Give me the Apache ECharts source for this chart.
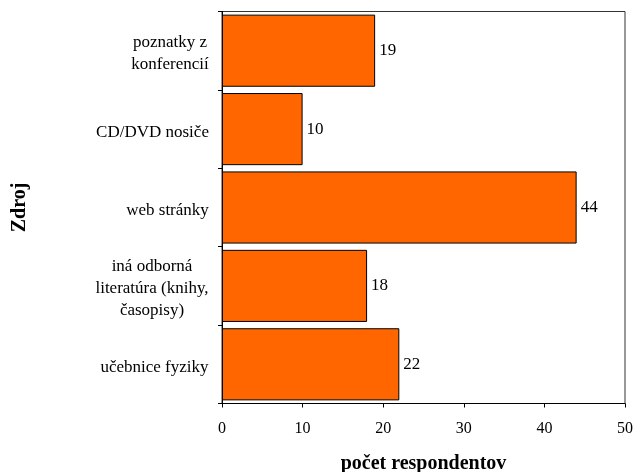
<!DOCTYPE html>
<html>
<head>
<meta charset="utf-8">
<script src="https://cdn.jsdelivr.net/npm/echarts@6/dist/echarts.min.js"></script>
<style>html,body{margin:0;padding:0;background:#fff}#c{width:633px;height:472px}</style>
</head>
<body>
<div id="c"></div>
<script>
// Sources of information, listed top to bottom
const categories = [
  'poznatky z\nkonferencií',
  'CD/DVD nosiče',
  'web stránky',
  'iná odborná\nliteratúra (knihy,\nčasopisy)',
  'učebnice fyziky'
];
const respondents = [19, 10, 44, 18, 22];
const xTicks = { min: 0, max: 50, interval: 10 };

const serif = '"Liberation Serif", "DejaVu Serif", serif';
const catFontSize = 17;

// Multi-line category labels are centred line by line inside a box as wide
// as their longest line, and the box is right-aligned against the axis.
const ctx = document.createElement('canvas').getContext('2d');
ctx.font = catFontSize + 'px ' + serif;
const rich = {};
categories.forEach((c, i) => {
  const w = Math.max(...c.split('\n').map(l => ctx.measureText(l).width));
  rich['c' + i] = { width: Math.ceil(w), align: 'center', fontFamily: serif, fontSize: catFontSize, color: '#000', lineHeight: 22 };
});

const chart = echarts.init(document.getElementById('c'));
chart.setOption({
  animation: false,
  grid: {
    left: 222, right: 8, top: 11.5, bottom: 68.5,
    outerBoundsMode: 'none',
    show: true, borderColor: '#333', borderWidth: 1
  },
  xAxis: {
    type: 'value', min: xTicks.min, max: xTicks.max, interval: xTicks.interval,
    name: 'počet respondentov', nameLocation: 'middle', nameGap: 50,
    nameTextStyle: { fontFamily: serif, fontSize: 20, fontWeight: 'bold', color: '#000' },
    axisLine: { show: true, lineStyle: { color: '#000' } },
    axisTick: { show: true, length: 4, lineStyle: { color: '#000' } },
    axisLabel: { fontFamily: serif, fontSize: 16, color: '#000', margin: 17 },
    splitLine: { show: false }
  },
  yAxis: {
    type: 'category', data: categories, inverse: true,
    name: 'Zdroj', nameLocation: 'middle', nameGap: 192, nameRotate: 90,
    nameTextStyle: { fontFamily: serif, fontSize: 20, fontWeight: 'bold', color: '#000' },
    axisLine: { show: true, lineStyle: { color: '#000' } },
    axisTick: { show: true, length: 4, lineStyle: { color: '#000' } },
    axisLabel: {
      margin: 13, align: 'right', rich: rich, padding: [6, 0, 0, 0],
      formatter: (v, i) => v.split('\n').map(l => '{c' + i + '|' + l + '}').join('\n')
    },
    splitLine: { show: false }
  },
  series: [{
    type: 'bar', data: respondents, barCategoryGap: '8%',
    itemStyle: { color: '#FF6600', borderColor: '#000', borderWidth: 1 },
    label: { show: true, position: 'right', distance: 4, fontFamily: serif, fontSize: 17, color: '#000' }
  }]
});
</script>
</body>
</html>
